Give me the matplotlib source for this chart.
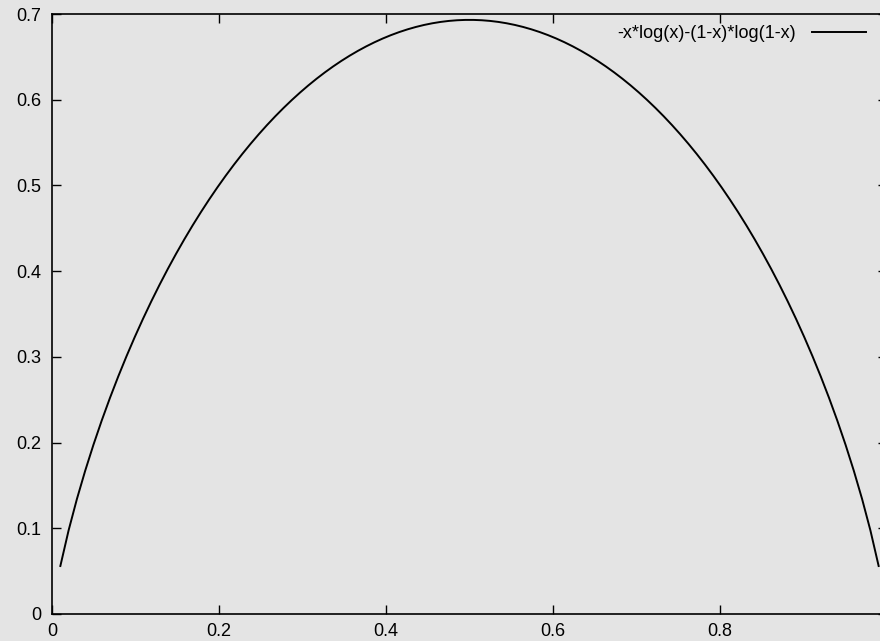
import numpy as np
import matplotlib
matplotlib.use('Agg')
import matplotlib.pyplot as plt

plt.rcParams['font.family'] = ['Liberation Sans', 'DejaVu Sans']

# binary entropy, sampled like gnuplot: 100 samples on [0.01, 0.99]
label = '-x*log(x)-(1-x)*log(1-x)'
x_start, x_end, n_samples = 0.01, 0.99, 100
x_ticks = [0, 0.2, 0.4, 0.6, 0.8]
y_ticks = [0, 0.1, 0.2, 0.3, 0.4, 0.5, 0.6, 0.7]

x = np.linspace(x_start, x_end, n_samples)
y = -x*np.log(x) - (1-x)*np.log(1-x)

W, H = 880, 641
fig = plt.figure(figsize=(W/100, H/100), dpi=100)
fig.patch.set_facecolor('#e4e4e4')
ax = fig.add_axes([52/W, (H-614)/H, 835/W, 600/H])
ax.set_facecolor('#e4e4e4')

ax.plot(x, y, color='black', lw=1.4, label=label)
ax.set_xlim(0, 1)
ax.set_ylim(0, 0.7)
ax.set_xticks(x_ticks)
ax.set_xticklabels(['0', '0.2', '0.4', '0.6', '0.8'])
ax.set_yticks(y_ticks)
ax.set_yticklabels(['0', '0.1', '0.2', '0.3', '0.4', '0.5', '0.6', '0.7'])
ax.tick_params(direction='in', length=6.5, width=1, top=True, right=True,
               labelsize=13)
ax.tick_params(axis='x', pad=6.5)
ax.tick_params(axis='y', pad=8)
for s in ax.spines.values():
    s.set_linewidth(1.2)

ax.legend(loc='upper right', bbox_to_anchor=(866/W, 1 - 25/H),
          bbox_transform=fig.transFigure, borderpad=0, borderaxespad=0,
          frameon=False, fontsize=13, handlelength=3.0,
          handletextpad=0.9, markerfirst=False)

fig.savefig('out.png', dpi=100, facecolor=fig.get_facecolor())
